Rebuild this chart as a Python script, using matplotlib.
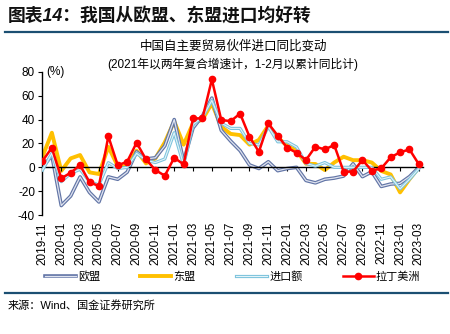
import numpy as np
import pandas as pd
import matplotlib
matplotlib.use('Agg')
import matplotlib.pyplot as plt
import matplotlib.patheffects as pe
from matplotlib.lines import Line2D

plt.rcParams['font.family'] = ['Liberation Sans', 'Noto Sans CJK SC']
plt.rcParams['axes.unicode_minus'] = False

# monthly labels 2019-11 .. 2023-03
months = list(pd.date_range('2019-11-01', periods=41, freq='MS').strftime('%Y-%m'))

# YoY import growth by partner (%)
eu = [0, 10, -32, -24, -8, -21, -29, -8, -10, -4, 13, 7, 8, 18, 40, 5, 33, 43, 58, 31,
      22, 14, 2, -1, 4.7, -2.8, -1, 0, -11, -13, -10, -9, -7.3, 3, -7.8, -3.7, -16, -14,
      -13.4, -7.8, 0]
asean = [8.9, 29, -3, 7.5, 10.3, -4.2, -5.6, 17.2, 1, 1, 14, 3.3, 7.5, 21, 38.5, 19, 37,
         40, 53.5, 34, 28, 27, 19, 23, 35, 25, 18, 14, 3, 2.8, -2.3, 4, 8.9, 6, 6, 4, -3,
         -6, -21, -10, 0]
imports = [-2.3, 11.7, -12, -5, -1.7, -12, -14.8, 3.9, -1, 0, 11.7, 6, 4, 7, 29, 2, 36, 42,
           56, 37, 32.6, 32.6, 20, 18.7, 34, 21.4, 21.4, 17, 3.3, 1, 4, 0, 0, 0, 0, 0, -10,
           -8, -18, -10, -1]
latam = [5.3, 16.4, -9.2, -4.5, 1.9, -12.6, -15.6, 26, 1.7, 4.7, 20.6, 6.7, -2.3, -7, 8,
         2.5, 41, 41, 73.6, 39.6, 38.7, 45, 25.6, 13, 36.8, 26.5, 16.4, 12.2, 6.1, 17.3, 15,
         18.7, -3.6, -3.6, 6.1, -2.8, -0.9, 8.4, 12.6, 15, 2.5]

x = np.arange(len(months))

fig = plt.figure(figsize=(4.5, 3.34), dpi=100)
ax = fig.add_axes([0.0933, 0.356, 0.847, 0.429])

ax.plot(x, eu, color='#dfe3ef', lw=0.9, label='欧盟', zorder=2,
        path_effects=[pe.Stroke(linewidth=2.6, foreground='#6275a6'), pe.Normal()])
ax.plot(x, asean, color='#ffc000', lw=2.8, label='东盟', zorder=1)
ax.plot(x, imports, color='#e3f3f9', lw=0.8, label='进口额', zorder=3,
        path_effects=[pe.Stroke(linewidth=2.3, foreground='#7cc3dc'), pe.Normal()])
ax.plot(x, latam, color='#ff0000', lw=1.8, marker='o', ms=4.5, label='拉丁美洲', zorder=4)

ax.set_ylim(-40, 80)
ax.set_yticks(np.arange(-40, 81, 20))
ax.set_xlim(-0.05, 40.45)

for s in ['top', 'right']:
    ax.spines[s].set_visible(False)
ax.spines['bottom'].set_position(('data', 0))
ax.spines['left'].set_linewidth(1.0)
ax.spines['bottom'].set_linewidth(1.0)
ax.set_xticks(x[::2])
ax.tick_params(axis='x', length=3, direction='out', labelbottom=False)
ax.tick_params(axis='y', length=3, direction='out', labelsize=8.5, pad=2)

sec = ax.secondary_xaxis('bottom')
sec.set_xticks(x[::2], labels=months[::2], rotation=90, fontsize=8.5)
sec.tick_params(length=0, pad=5)
sec.spines['bottom'].set_visible(False)

ax.text(0.01, 1.0, '(%)', transform=ax.transAxes, fontsize=8.5, va='center', ha='left')

ax.legend(loc='center', bbox_to_anchor=(0.5, -0.43), ncol=4, frameon=False,
          fontsize=8, handlelength=2.8, columnspacing=3.6, handletextpad=0.2)

fig.text(0.018, 0.952, '图表14：我国从欧盟、东盟进口均好转', fontsize=12.8, fontweight='bold',
         fontstyle='italic', va='center', ha='left', color='#111111')
fig.text(0.518, 0.862, '中国自主要贸易伙伴进口同比变动', fontsize=9, va='center', ha='center')
fig.text(0.518, 0.808, '(2021年以两年复合增速计，1-2月以累计同比计)', fontsize=8.5,
         va='center', ha='center')
fig.text(0.018, 0.087, '来源：Wind、国金证券研究所', fontsize=8, va='center', ha='left')

fig.add_artist(Line2D([0.011, 0.995], [0.903, 0.903], color='#1b4f72', lw=1.6))
fig.add_artist(Line2D([0.011, 0.995], [0.122, 0.122], color='#1b4f72', lw=1.6))

fig.savefig('out.png', dpi=100)
